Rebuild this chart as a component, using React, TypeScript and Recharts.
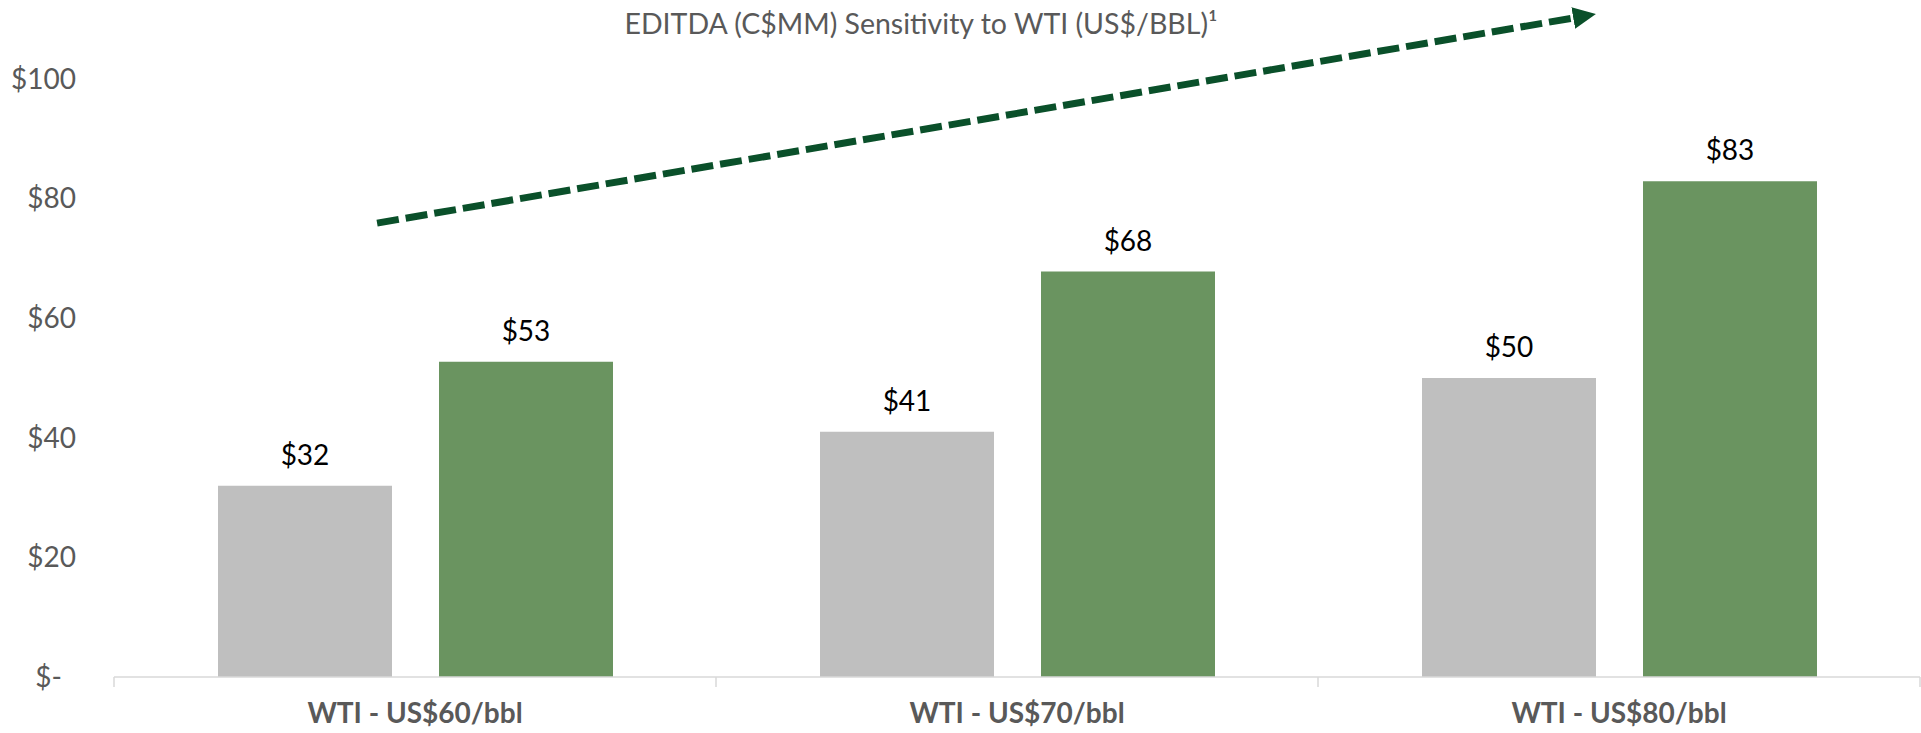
import React from 'react';
import { BarChart, Bar, XAxis, YAxis, LabelList, ReferenceLine } from 'recharts';

const categories = ['WTI - US$60/bbl', 'WTI - US$70/bbl', 'WTI - US$80/bbl'];
const baseValues = [32, 41, 50];
const upsideValues = [52.7, 67.8, 82.9];
const yTicks = [0, 20, 40, 60, 80, 100];
// trend arrow: position along the category bands (0 = left edge of first band) and value
const arrowStart = { band: 0.437, value: 75.9 };
const arrowEnd = { band: 2.424, value: 110.2 };

const data = categories.map((name, i) => ({
  name,
  base: baseValues[i],
  upside: upsideValues[i],
}));

const FONT = 'Lato, "Open Sans", sans-serif';
const GREY_TEXT = '#595959';
const AXIS_GREY = '#D9D9D9';
const ARROW_GREEN = '#0A502A';

const money = (v: number) => `$${Math.round(v)}`;

const YTick = (props: any) => {
  const { x, y, payload } = props;
  const zero = payload.value === 0;
  return (
    <text
      x={zero ? x - 14 : x}
      y={y}
      dy="0.35em"
      textAnchor="end"
      fill={GREY_TEXT}
      fontSize={28}
      fontFamily={FONT}
    >
      {zero ? '$-' : `$${payload.value}`}
    </text>
  );
};

// small tick below the axis line at a band edge
const EdgeTick = (props: any) => {
  const { x1, y1, y2 } = props;
  const bottom = Math.max(y1, y2);
  return <line x1={x1} x2={x1} y1={bottom} y2={bottom + 10} stroke={AXIS_GREY} strokeWidth={1.5} />;
};

// segment runs from band start of first category to band start of last one
const DashedArrow = (props: any) => {
  const { x1, y1, x2, y2 } = props;
  const bandWidth = (x2 - x1) / (categories.length - 1);
  const sx = x1 + arrowStart.band * bandWidth;
  const ex = x1 + arrowEnd.band * bandWidth;
  return (
    <line
      x1={sx}
      y1={y1}
      x2={ex}
      y2={y2}
      stroke={ARROW_GREEN}
      strokeWidth={7}
      strokeDasharray="22 7"
      markerEnd="url(#arrowHead)"
    />
  );
};

export default function App() {
  return (
    <div style={{ position: 'absolute', left: 0, top: 0, background: '#fff' }}>
      <BarChart
        width={1921}
        height={733}
        data={data}
        margin={{ top: 79, right: 1, bottom: 0, left: 0 }}
        barCategoryGap={104}
        barGap={47}
      >
        <defs>
          <marker
            id="arrowHead"
            markerUnits="userSpaceOnUse"
            markerWidth={24}
            markerHeight={22}
            refX={0}
            refY={11}
            orient="auto"
          >
            <path d="M0,0 L23,11 L0,22 Z" fill={ARROW_GREEN} />
          </marker>
        </defs>
        <text
          x={921}
          y={34}
          textAnchor="middle"
          fontSize={28.5}
          fontFamily={FONT}
          fill={GREY_TEXT}
        >
          EDITDA (C$MM) Sensitivity to WTI (US$/BBL)¹
        </text>
        <XAxis
          dataKey="name"
          height={56}
          axisLine={{ stroke: AXIS_GREY, strokeWidth: 1.5 }}
          tickLine={false}
          tickSize={0}
          tickMargin={26}
          tick={{ fill: GREY_TEXT, fontSize: 28, fontWeight: 700, fontFamily: FONT }}
        />
        <YAxis
          width={114}
          domain={[0, 100]}
          ticks={yTicks}
          axisLine={false}
          tickLine={false}
          tickSize={0}
          tickMargin={38}
          tick={<YTick />}
        />
        <Bar dataKey="base" fill="#BFBFBF" isAnimationActive={false}>
          <LabelList
            dataKey="base"
            position="top"
            offset={21}
            formatter={money}
            fill="#000"
            fontSize={28}
            fontFamily={FONT}
          />
        </Bar>
        <Bar dataKey="upside" fill="#6A9460" isAnimationActive={false}>
          <LabelList
            dataKey="upside"
            position="top"
            offset={21}
            formatter={money}
            fill="#000"
            fontSize={28}
            fontFamily={FONT}
          />
        </Bar>
        {categories.map((c) => (
          <ReferenceLine key={c} x={c} position="start" ifOverflow="visible" shape={<EdgeTick />} />
        ))}
        <ReferenceLine
          x={categories[categories.length - 1]}
          position="end"
          ifOverflow="visible"
          shape={<EdgeTick />}
        />
        <ReferenceLine
          segment={[
            { x: categories[0], y: arrowStart.value },
            { x: categories[categories.length - 1], y: arrowEnd.value },
          ]}
          position="start"
          ifOverflow="visible"
          shape={<DashedArrow />}
        />
      </BarChart>
    </div>
  );
}
